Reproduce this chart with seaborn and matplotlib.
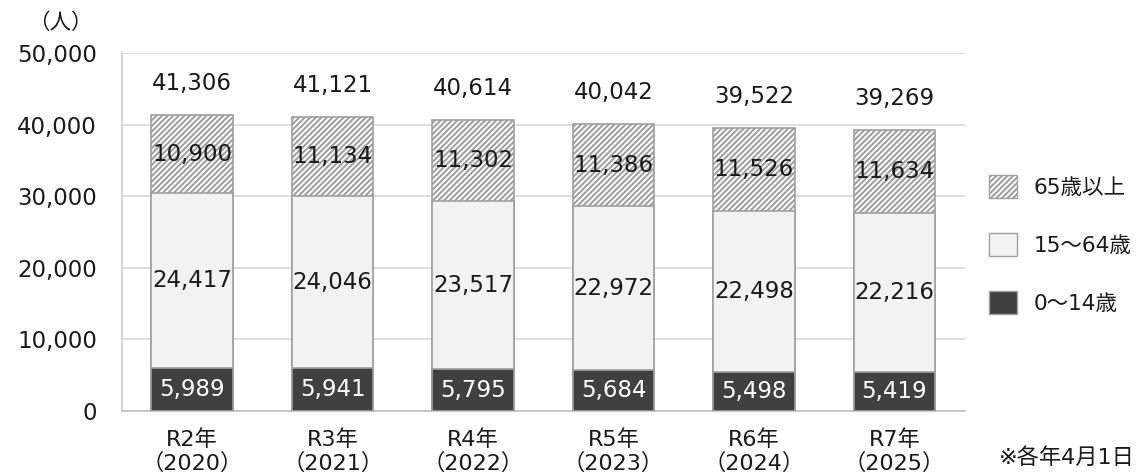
import matplotlib
matplotlib.use("Agg")
import matplotlib.pyplot as plt
import matplotlib.patches as mpatches
import seaborn as sns

# ================
# Data
# ================
years = ["R2年\n（2020）", "R3年\n（2021）", "R4年\n（2022）",
         "R5年\n（2023）", "R6年\n（2024）", "R7年\n（2025）"]
age_0_14 = [5989, 5941, 5795, 5684, 5498, 5419]
age_15_64 = [24417, 24046, 23517, 22972, 22498, 22216]
age_65_up = [10900, 11134, 11302, 11386, 11526, 11634]
totals = [41306, 41121, 40614, 40042, 39522, 39269]
yticks = [0, 10000, 20000, 30000, 40000, 50000]

# ================
# Style
# ================
sns.set_theme(style="white")
plt.rcParams['font.family'] = ['DejaVu Sans', 'Noto Sans CJK JP']
plt.rcParams['hatch.color'] = '#a6a6a6'
plt.rcParams['hatch.linewidth'] = 1.5

EDGE = '#a0a0a0'
FS = 16.5
TXT = '#1a1a1a'

fig = plt.figure(figsize=(11.39, 4.75), dpi=100)
ax = fig.add_axes([0.107, 0.135, 0.74, 0.753])

under_65 = [a + b for a, b in zip(age_0_14, age_15_64)]
full = [a + b for a, b in zip(under_65, age_65_up)]

# draw from the tallest layer down so each overlaps the one behind
sns.barplot(x=years, y=full, color='white', edgecolor=EDGE, linewidth=1.2,
            hatch='//////', width=0.58, saturation=1, ax=ax, zorder=2)
sns.barplot(x=years, y=under_65, color='#f2f2f2', edgecolor=EDGE, linewidth=1.2,
            width=0.58, saturation=1, ax=ax, zorder=3)
sns.barplot(x=years, y=age_0_14, color='#404040', edgecolor=EDGE, linewidth=1.2,
            width=0.58, saturation=1, ax=ax, zorder=4)

# ================
# Labels
# ================
for i in range(len(years)):
    ax.text(i, age_0_14[i] / 2, f"{age_0_14[i]:,}", ha='center', va='center',
            color='white', fontsize=FS, zorder=6)
    ax.text(i, age_0_14[i] + age_15_64[i] / 2, f"{age_15_64[i]:,}", ha='center',
            va='center', color=TXT, fontsize=FS, zorder=6)
    ax.text(i, under_65[i] + age_65_up[i] / 2, f"{age_65_up[i]:,}", ha='center',
            va='center', color=TXT, fontsize=FS, zorder=6)
    ax.text(i, totals[i] + 4400, f"{totals[i]:,}", ha='center', va='center',
            color=TXT, fontsize=FS, zorder=6)

ax.set_xlim(-0.5, len(years) - 0.5)
ax.set_ylim(0, 50000)
ax.set_yticks(yticks)
ax.set_yticklabels([f"{v:,}" for v in yticks], fontsize=FS, color=TXT)
ax.tick_params(axis='x', labelsize=FS - 0.5, colors=TXT, pad=13, length=0)
ax.tick_params(axis='y', pad=18, length=0)
ax.yaxis.grid(True, color='#d9d9d9', linewidth=1.2, zorder=0)
ax.set_axisbelow(True)
for s in ['top', 'right']:
    ax.spines[s].set_visible(False)
ax.spines['left'].set_color('#d0d0d0')
ax.spines['bottom'].set_color('#bfbfbf')
ax.spines['left'].set_linewidth(1.2)
ax.spines['bottom'].set_linewidth(1.2)
ax.set_xlabel('')

fig.text(0.053, 0.953, "（人）", ha='center', va='center', fontsize=FS - 1, color=TXT)
fig.text(0.996, 0.036, "※各年4月1日", ha='right', va='center', fontsize=FS - 0.5, color=TXT)

handles = [
    mpatches.Patch(facecolor='white', edgecolor=EDGE, hatch='//////', label='65歳以上'),
    mpatches.Patch(facecolor='#f2f2f2', edgecolor=EDGE, label='15～64歳'),
    mpatches.Patch(facecolor='#404040', edgecolor=EDGE, label='0～14歳'),
]
leg = fig.legend(handles=handles, loc='center left', bbox_to_anchor=(0.851, 0.485),
                 frameon=False, fontsize=FS - 1, handlelength=1.3, handleheight=1.3,
                 labelspacing=1.6, handletextpad=0.8)
for t in leg.get_texts():
    t.set_color(TXT)

fig.savefig("out.png", dpi=100)
plt.close(fig)
